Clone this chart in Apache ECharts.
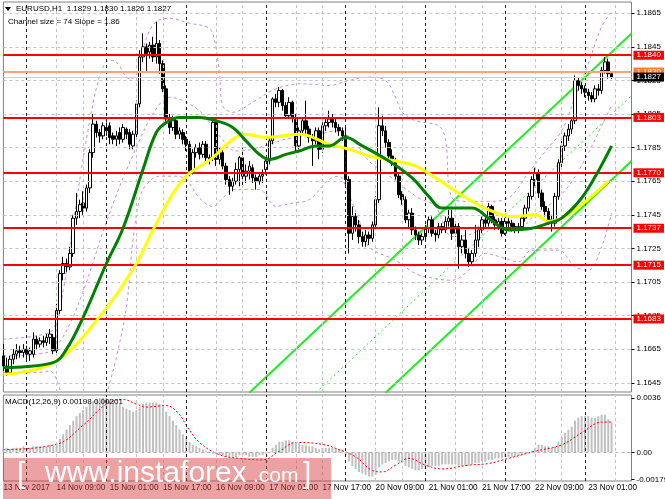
<!DOCTYPE html>
<html><head><meta charset="utf-8">
<script src="https://cdn.jsdelivr.net/npm/echarts@6/dist/echarts.min.js"></script>
<style>html,body{margin:0;padding:0;background:#fff;}#c{width:665px;height:499px;}</style>
</head><body><div id="c"></div>
<script>
// ---------- DATA ----------
// EURUSD H1 candles: [open, high, low, close]
const ohlc = [
[1.1661,1.1668,1.1652,1.1655],[1.1655,1.1660,1.1649,1.1651],[1.1651,1.1661,1.1650,1.1659],[1.1659,1.1665,1.1656,1.1662],
[1.1662,1.1668,1.1659,1.1664],[1.1664,1.1667,1.1660,1.1663],[1.1663,1.1668,1.1660,1.1665],[1.1665,1.1667,1.1659,1.1662],
[1.1662,1.1666,1.1658,1.1664],[1.1662,1.1675,1.1660,1.1671],[1.1671,1.1673,1.1665,1.1668],[1.1668,1.1672,1.1666,1.1670],
[1.1670,1.1673,1.1666,1.1669],[1.1669,1.1674,1.1667,1.1672],[1.1672,1.1677,1.1668,1.1674],[1.1672,1.1674,1.1662,1.1664],
[1.1664,1.1692,1.1662,1.1688],[1.1688,1.1712,1.1686,1.1710],[1.1710,1.1720,1.1706,1.1716],[1.1716,1.1719,1.1711,1.1714],
[1.1714,1.1726,1.1712,1.1722],[1.1722,1.1745,1.1720,1.1743],[1.1743,1.1758,1.1739,1.1747],[1.1747,1.1754,1.1743,1.1751],
[1.1752,1.1759,1.1745,1.1749],[1.1749,1.1763,1.1747,1.1761],[1.1761,1.1784,1.1758,1.1782],[1.1782,1.1805,1.1779,1.1799],
[1.1799,1.1801,1.1791,1.1794],[1.1794,1.1796,1.1788,1.1792],[1.1792,1.1800,1.1790,1.1798],[1.1797,1.1800,1.1792,1.1795],
[1.1798,1.1800,1.1787,1.1791],[1.1792,1.1794,1.1787,1.1790],[1.1790,1.1795,1.1786,1.1792],[1.1794,1.1797,1.1787,1.1790],
[1.1790,1.1799,1.1788,1.1797],[1.1796,1.1797,1.1790,1.1793],[1.1794,1.1796,1.1784,1.1787],[1.1786,1.1795,1.1784,1.1793],
[1.1793,1.1813,1.1791,1.1811],[1.1811,1.1843,1.1809,1.1839],[1.1839,1.1853,1.1836,1.1845],[1.1845,1.1847,1.1830,1.1841],
[1.1842,1.1848,1.1838,1.1846],[1.1846,1.1851,1.1836,1.1839],[1.1839,1.1860,1.1835,1.1847],[1.1847,1.1849,1.1829,1.1835],
[1.1835,1.1837,1.1818,1.1820],[1.1820,1.1822,1.1799,1.1802],[1.1802,1.1805,1.1793,1.1797],[1.1797,1.1804,1.1795,1.1801],
[1.1801,1.1803,1.1790,1.1793],[1.1793,1.1797,1.1790,1.1795],[1.1794,1.1796,1.1787,1.1790],[1.1790,1.1792,1.1783,1.1787],
[1.1787,1.1789,1.1768,1.1771],[1.1771,1.1784,1.1769,1.1782],[1.1782,1.1787,1.1779,1.1785],[1.1785,1.1788,1.1778,1.1781],
[1.1781,1.1789,1.1779,1.1787],[1.1787,1.1789,1.1776,1.1779],[1.1779,1.1781,1.1775,1.1778],[1.1779,1.1802,1.1777,1.1800],
[1.1800,1.1803,1.1774,1.1778],[1.1778,1.1785,1.1775,1.1782],[1.1782,1.1784,1.1772,1.1774],[1.1774,1.1776,1.1763,1.1766],
[1.1766,1.1768,1.1757,1.1762],[1.1762,1.1767,1.1759,1.1765],[1.1765,1.1776,1.1763,1.1772],[1.1772,1.1780,1.1762,1.1779],
[1.1779,1.1785,1.1762,1.1768],[1.1768,1.1775,1.1764,1.1771],[1.1771,1.1777,1.1766,1.1774],[1.1773,1.1775,1.1764,1.1767],
[1.1767,1.1769,1.1760,1.1765],[1.1765,1.1770,1.1763,1.1768],[1.1768,1.1772,1.1764,1.1769],[1.1772,1.1779,1.1769,1.1777],
[1.1777,1.1791,1.1775,1.1789],[1.1789,1.1815,1.1787,1.1814],[1.1814,1.1817,1.1809,1.1812],[1.1812,1.1821,1.1809,1.1819],
[1.1819,1.1820,1.1807,1.1810],[1.1810,1.1812,1.1802,1.1804],[1.1804,1.1815,1.1802,1.1812],[1.1812,1.1813,1.1800,1.1803],
[1.1803,1.1805,1.1783,1.1786],[1.1786,1.1797,1.1784,1.1795],[1.1795,1.1803,1.1792,1.1801],[1.1801,1.1813,1.1793,1.1796],
[1.1796,1.1798,1.1788,1.1791],[1.1791,1.1793,1.1774,1.1789],[1.1789,1.1797,1.1787,1.1795],[1.1795,1.1797,1.1778,1.1784],
[1.1784,1.1800,1.1782,1.1798],[1.1798,1.1803,1.1795,1.1800],[1.1800,1.1807,1.1797,1.1802],[1.1802,1.1805,1.1797,1.1800],
[1.1800,1.1802,1.1794,1.1797],[1.1797,1.1799,1.1792,1.1795],[1.1795,1.1797,1.1789,1.1792],[1.1792,1.1798,1.1763,1.1766],
[1.1766,1.1768,1.1722,1.1734],[1.1734,1.1750,1.1730,1.1744],[1.1744,1.1746,1.1735,1.1739],[1.1739,1.1742,1.1728,1.1732],
[1.1732,1.1735,1.1726,1.1729],[1.1729,1.1736,1.1726,1.1733],[1.1733,1.1735,1.1727,1.1731],[1.1731,1.1741,1.1729,1.1739],
[1.1739,1.1756,1.1737,1.1754],[1.1754,1.1809,1.1752,1.1798],[1.1798,1.1804,1.1792,1.1795],[1.1795,1.1798,1.1785,1.1788],
[1.1788,1.1790,1.1777,1.1780],[1.1780,1.1784,1.1774,1.1777],[1.1777,1.1779,1.1766,1.1768],[1.1768,1.1770,1.1755,1.1757],
[1.1757,1.1759,1.1751,1.1754],[1.1754,1.1756,1.1740,1.1742],[1.1742,1.1748,1.1737,1.1746],[1.1746,1.1749,1.1733,1.1736],
[1.1736,1.1738,1.1730,1.1733],[1.1733,1.1735,1.1727,1.1730],[1.1730,1.1734,1.1727,1.1732],[1.1732,1.1739,1.1730,1.1737],
[1.1737,1.1744,1.1734,1.1742],[1.1742,1.1744,1.1732,1.1734],[1.1734,1.1736,1.1729,1.1733],[1.1733,1.1740,1.1731,1.1738],
[1.1738,1.1740,1.1734,1.1736],[1.1736,1.1744,1.1734,1.1741],[1.1741,1.1748,1.1738,1.1743],[1.1743,1.1748,1.1730,1.1734],
[1.1734,1.1740,1.1732,1.1738],[1.1738,1.1740,1.1713,1.1726],[1.1726,1.1733,1.1722,1.1730],[1.1730,1.1736,1.1719,1.1722],
[1.1722,1.1725,1.1714,1.1717],[1.1717,1.1724,1.1715,1.1722],[1.1722,1.1739,1.1720,1.1730],[1.1730,1.1738,1.1726,1.1736],
[1.1736,1.1744,1.1734,1.1742],[1.1742,1.1744,1.1737,1.1740],[1.1740,1.1752,1.1738,1.1750],[1.1750,1.1751,1.1740,1.1742],
[1.1742,1.1744,1.1736,1.1739],[1.1739,1.1743,1.1736,1.1741],[1.1741,1.1743,1.1732,1.1734],[1.1734,1.1743,1.1733,1.1741],
[1.1741,1.1743,1.1737,1.1740],[1.1740,1.1742,1.1735,1.1738],[1.1738,1.1740,1.1734,1.1736],[1.1736,1.1740,1.1734,1.1738],
[1.1738,1.1745,1.1736,1.1743],[1.1743,1.1751,1.1741,1.1749],[1.1749,1.1758,1.1747,1.1756],[1.1756,1.1768,1.1754,1.1766],
[1.1766,1.1773,1.1762,1.1770],[1.1770,1.1772,1.1755,1.1758],[1.1758,1.1760,1.1748,1.1750],[1.1750,1.1753,1.1744,1.1747],
[1.1747,1.1749,1.1739,1.1742],[1.1742,1.1745,1.1735,1.1740],[1.1740,1.1758,1.1738,1.1756],[1.1756,1.1778,1.1754,1.1776],
[1.1776,1.1789,1.1773,1.1786],[1.1786,1.1794,1.1783,1.1792],[1.1792,1.1799,1.1789,1.1796],[1.1796,1.1803,1.1793,1.1801],
[1.1801,1.1828,1.1799,1.1825],[1.1825,1.1827,1.1819,1.1822],[1.1822,1.1824,1.1817,1.1820],[1.1820,1.1822,1.1815,1.1818],
[1.1818,1.1820,1.1813,1.1816],[1.1816,1.1818,1.1812,1.1814],[1.1814,1.1822,1.1812,1.1820],[1.1820,1.1823,1.1816,1.1819],
[1.1819,1.1833,1.1817,1.1831],[1.1831,1.1839,1.1829,1.1836],[1.1836,1.1838,1.1826,1.1829],[1.1829,1.1830,1.1826,1.1827]
];
const slotCount = 190;                      // bar slots incl. right shift
const timeLabels = ['13 Nov 2017','14 Nov 09:00','15 Nov 01:00','15 Nov 17:00','16 Nov 09:00','17 Nov 01:00',
  '17 Nov 17:00','20 Nov 09:00','21 Nov 01:00','21 Nov 17:00','22 Nov 09:00','23 Nov 01:00'];
const labelStep = 16;
const daySeparators = [7,31,55,79,103,127,151,175];
const gridColumns = [16,24,40,48,64,72,88,96,112,120,136,144,160,168,184];
const priceTicks = [1.1645,1.1665,1.1685,1.1705,1.1725,1.1745,1.1765,1.1785,1.1805,1.1825,1.1845,1.1865];
const levels = [1.1840,1.1803,1.1770,1.1737,1.1715,1.1683];
const askPrice = 1.1830;
const bidPrice = 1.1827;
// moving averages (sampled points: [bar, price])
const maGreen = [[0,1.1654],[15,1.1657],[19,1.1665],[24,1.1684],[31,1.1716],[36,1.1737],[42,1.1772],[46,1.1794],[49,1.1800],
  [53,1.1803],[59,1.1803],[64,1.1801],[69,1.1797],[73,1.1789],[77,1.1781],[80,1.1778],[85,1.1781],[89,1.1783],[94,1.1786],
  [98,1.1786],[103,1.1791],[108,1.1786],[116,1.1777],[123,1.1767],[128,1.1756],[132,1.1749],[141,1.1749],[146,1.1743],
  [152,1.1736],[159,1.1737],[164,1.1740],[168,1.1743],[174,1.1755],[179,1.1771],[183,1.1786]];
const maYellow = [[0,1.1650],[15,1.1657],[28,1.1682],[40,1.1716],[45,1.1736],[54,1.1766],[63,1.1779],[69,1.1790],[73,1.1793],
  [79,1.1791],[89,1.1793],[98,1.1787],[104,1.1784],[110,1.1780],[118,1.1777],[124,1.1774],[130,1.1767],[136,1.1759],
  [141,1.1753],[146,1.1748],[153,1.1744],[160,1.1745],[164,1.1741],[168,1.1743],[174,1.1751],[182,1.1765]];
// Bollinger bands (sampled)
const bbUpper = [[0,1.1671],[10,1.1673],[15,1.1677],[18,1.1700],[21,1.1740],[25,1.1790],[29,1.1828],[32,1.1837],[34,1.1836],
  [38,1.1826],[40,1.1828],[43,1.1850],[46,1.1860],[50,1.1862],[56,1.1859],[61,1.1857],[63,1.1853],[65,1.1830],[66,1.1810],
  [69,1.1806],[75,1.1812],[82,1.1820],[90,1.1823],[98,1.1822],[104,1.1825],[110,1.1827],[115,1.1825],[118,1.1815],
  [120,1.1806],[124,1.1801],[131,1.1798],[133,1.1790],[135,1.1755],[140,1.1753],[146,1.1753],[152,1.1755],[158,1.1770],
  [164,1.1785],[168,1.1795],[172,1.1815],[176,1.1835],[180,1.1857],[183,1.1866]];
const bbMiddle = [[0,1.1661],[10,1.1662],[15,1.1665],[20,1.1680],[25,1.1705],[30,1.1735],[35,1.1762],[40,1.1785],[45,1.1805],
  [50,1.1815],[55,1.1812],[60,1.1805],[65,1.1792],[70,1.1783],[75,1.1784],[80,1.1787],[85,1.1790],[90,1.1792],[95,1.1793],
  [100,1.1795],[105,1.1790],[110,1.1777],[115,1.1770],[120,1.1762],[125,1.1755],[130,1.1750],[135,1.1732],[140,1.1733],
  [145,1.1737],[150,1.1737],[155,1.1737],[160,1.1745],[165,1.1752],[170,1.1762],[175,1.1778],[180,1.1798],[183,1.1810]];
const bbLower = [[0,1.1651],[10,1.1651],[14,1.1652],[16,1.1647],[18,1.1635],[22,1.1620],[27,1.1615],[30,1.1630],[32,1.1645],
  [34,1.1660],[37,1.1690],[39,1.1730],[41,1.1755],[43,1.1763],[47,1.1768],[52,1.1768],[55,1.1766],[59,1.1755],[63,1.1750],
  [66,1.1755],[69,1.1760],[77,1.1760],[82,1.1750],[87,1.1752],[92,1.1754],[98,1.1766],[101,1.1768],[103,1.1762],
  [105,1.1752],[107,1.1742],[110,1.1726],[118,1.1718],[124,1.1710],[130,1.1707],[135,1.1706],[140,1.1712],[145,1.1722],
  [151,1.1719],[155,1.1717],[159,1.1724],[167,1.1724],[172,1.1714],[176,1.1712],[180,1.1726],[183,1.1746]];
// regression channel (end points)
const channelUpper = [[74,1.1639],[189,1.1853]];
const channelMiddle = [[94,1.1639],[189,1.1816]];
const channelLower = [[115,1.1639],[189,1.1777]];
// MACD(12,26,9)
const macdMain = [
 0.0003,0.0003,0.0002,0.0003,0.0003,0.0003,0.0004,0.0003,0.0003,0.0004,0.0004,0.0004,0.0004,0.0004,0.0005,0.0004,
 0.0006,0.0009,0.0012,0.0015,0.0018,0.0021,0.0024,0.0026,0.0028,0.0030,0.0032,0.0034,0.0035,0.0036,0.0036,0.0036,0.0035,
 0.0034,0.0033,0.0032,0.0030,0.0029,0.0028,0.0027,0.0028,
 0.0030,0.0032,0.0033,0.0033,0.0033,0.0033,0.0032,0.0030,
 0.0027,0.0024,0.0021,0.0018,0.0015,0.0012,0.0010,0.0007,0.0005,0.0004,
 0.0003,0.0002,0.0001,0.0000,-0.0001,
 -0.0001,-0.0002,-0.0002,-0.0003,-0.0003,-0.0003,-0.0003,-0.0002,-0.0002,-0.0002,-0.0003,-0.0003,-0.0003,-0.0002,-0.0002,-0.0001,0.0000,
 0.0003,0.0005,0.0007,0.0007,0.0008,0.0008,0.0007,0.0006,0.0006,
 0.0005,0.0005,0.0004,0.0004,0.0003,0.0002,0.0003,0.0003,0.0003,0.0003,0.0003,0.0002,0.0002,
 -0.0002,-0.0006,-0.0009,-0.0011,-0.0013,-0.0014,-0.0015,-0.0016,-0.0016,-0.0015,
 -0.0010,-0.0008,-0.0007,-0.0006,-0.0005,-0.0005,-0.0006,-0.0007,
 -0.0009,-0.0010,-0.0011,-0.0012,-0.0012,-0.0011,-0.0011,
 -0.0010,-0.0009,-0.0009,-0.0009,-0.0008,-0.0008,-0.0008,-0.0008,-0.0008,-0.0009,-0.0009,-0.0009,-0.0009,-0.0008,-0.0007,-0.0007,-0.0006,-0.0006,-0.0005,-0.0005,
 -0.0004,-0.0004,-0.0004,-0.0003,-0.0003,-0.0003,-0.0003,-0.0002,-0.0002,-0.0001,0.0000,0.0001,0.0003,
 0.0005,0.0005,0.0004,0.0004,0.0003,0.0004,0.0007,0.0010,
 0.0013,0.0015,0.0017,0.0021,0.0023,0.0024,0.0024,0.0024,
 0.0023,0.0023,0.0024,0.0025,0.0025,0.0022,0.0020];
const macdSignal = [[0,0.00018],[16,0.00053],[24,0.0018],[31,0.0032],[36,0.0035],[40,0.0032],[43,0.0030],[49,0.0031],
  [53,0.0025],[55,0.0018],[59,0.00065],[65,-0.00016],[71,-0.0004],[78,-0.0005],[83,0.00007],[88,0.00065],[96,0.00053],
  [101,0.00018],[106,-0.0003],[111,-0.0012],[114,-0.0013],[118,-0.00085],[122,-0.0004],[127,-0.00085],[132,-0.0011],
  [140,-0.00085],[146,-0.00074],[152,-0.0004],[160,0.00007],[168,0.0005],[174,0.0013],[180,0.0020],[183,0.00201]];
const macdTickValues = [-0.00179, 0, 0.0036];
const macdTickText = ['-0.00179', '0.00', '0.0036'];
const titleText = 'EURUSD,H1  1.1829 1.1830 1.1826 1.1827';
const channelText = 'Channel size = 74 Slope = 1.86';
const macdText = 'MACD(12,26,9) 0.00198 0.00201';

// ---------- CHART ----------
const FONT = 'Liberation Sans';
const cats = Array.from({length: slotCount}, (_, i) => String(i));
const candleData = ohlc.map(r => [r[0], r[3], r[2], r[1]]);
const chart = echarts.init(document.getElementById('c'), null, {renderer: 'canvas', width: 665, height: 499});

const dash = (color) => ({color, width: 1, type: [3, 3]});
const levelLabel = (bg, fg) => ({show: true, position: 'end', distance: 2, color: fg, backgroundColor: bg,
  fontSize: 8, fontFamily: FONT, padding: [1, 3, 0, 3], lineHeight: 8,
  formatter: p => Number(p.value).toFixed(4)});

const mainMarks = [
  ...priceTicks.map(v => ({yAxis: v, lineStyle: dash('#c4c4c4')})),
  ...gridColumns.map(i => ({xAxis: i, lineStyle: dash('#c4c4c4')})),
  ...daySeparators.map(i => ({xAxis: i, lineStyle: dash('#202020')}))
];
const macdMarks = [
  {yAxis: 0, lineStyle: dash('#b0b0b0')},
  ...gridColumns.map(i => ({xAxis: i, lineStyle: dash('#c4c4c4')})),
  ...daySeparators.map(i => ({xAxis: i, lineStyle: dash('#202020')}))
];
const levelMarks = [
  ...levels.map(v => ({yAxis: v, lineStyle: {color: '#ff0000', width: 2, type: 'solid'}, label: levelLabel('#ff0000', '#fff')})),
  {yAxis: askPrice, lineStyle: {color: '#ffa27c', width: 2, type: 'solid'}, label: levelLabel('#ff7b2e', '#fff')},
  {yAxis: bidPrice, lineStyle: {color: '#cfcfcf', width: 1, type: 'solid'}, label: levelLabel('#000000', '#fff')}
];

const bbStyle = {color: '#c58be8', width: 1, type: [3, 3]};
const lineSeries = (name, data, style, z, smooth) => ({
  name, type: 'line', xAxisIndex: 0, yAxisIndex: 0, data, showSymbol: false, symbol: 'none',
  smooth: smooth, lineStyle: style, z, silent: true
});
const markLineBase = {silent: true, symbol: ['none', 'none'], precision: 6, animation: false};

const option = {
  animation: false,
  backgroundColor: '#ffffff',
  grid: [
    {left: 3.4, right: 33.5, top: 2, bottom: 107, show: true, borderColor: '#808080', borderWidth: 1, containLabel: false, outerBoundsMode: 'none'},
    {left: 3.4, right: 33.5, top: 395, bottom: 18, show: true, borderColor: '#808080', borderWidth: 1, containLabel: false, outerBoundsMode: 'none'}
  ],
  xAxis: [
    {type: 'category', gridIndex: 0, data: cats, boundaryGap: false,
     axisLine: {show: false}, axisTick: {show: false}, axisLabel: {show: false}, splitLine: {show: false}},
    {type: 'category', gridIndex: 1, data: cats, boundaryGap: false,
     axisLine: {show: false}, axisTick: {show: false}, splitLine: {show: false},
     axisLabel: {show: true, interval: i => i % labelStep === 0, align: 'left', margin: 3,
       fontSize: 8.2, fontFamily: FONT, color: '#000',
       formatter: (v, i) => (i % labelStep === 0 && timeLabels[i / labelStep]) ? timeLabels[i / labelStep] : ''}}
  ],
  yAxis: [
    {type: 'value', gridIndex: 0, position: 'right', min: 1.16395, max: 1.18717, scale: true,
     axisLine: {show: false}, splitLine: {show: false},
     axisTick: {show: true, length: 3, customValues: priceTicks, lineStyle: {color: '#000'}},
     axisLabel: {show: true, customValues: priceTicks, margin: 5, fontSize: 8, fontFamily: FONT, color: '#000',
       formatter: v => Number(v).toFixed(4)}},
    {type: 'value', gridIndex: 1, position: 'right', min: -0.0019, max: 0.0038,
     axisLine: {show: false}, splitLine: {show: false},
     axisTick: {show: true, length: 3, customValues: macdTickValues, lineStyle: {color: '#000'}},
     axisLabel: {show: true, customValues: macdTickValues, margin: 5, fontSize: 8, fontFamily: FONT, color: '#000',
       formatter: v => {
         let best = 0;
         macdTickValues.forEach((t, k) => { if (Math.abs(t - v) < Math.abs(macdTickValues[best] - v)) best = k; });
         return macdTickText[best];
       }}}
  ],
  series: [
    {name: 'grid', type: 'line', xAxisIndex: 0, yAxisIndex: 0, data: [], z: 1, silent: true,
     markLine: Object.assign({label: {show: false}, data: mainMarks}, markLineBase)},
    {name: 'levels', type: 'line', xAxisIndex: 0, yAxisIndex: 0, data: [], z: 2, silent: true,
     markLine: Object.assign({data: levelMarks}, markLineBase)},
    lineSeries('bbUpper', bbUpper, bbStyle, 3, 0.35),
    lineSeries('bbMiddle', bbMiddle, bbStyle, 3, 0.35),
    lineSeries('bbLower', bbLower, bbStyle, 3, 0.35),
    lineSeries('chUpper', channelUpper, {color: '#22ee22', width: 2}, 3, false),
    lineSeries('chMiddle', channelMiddle, {color: '#22ee22', width: 1, type: [2, 3]}, 3, false),
    lineSeries('chLower', channelLower, {color: '#22ee22', width: 2}, 3, false),
    {name: 'EURUSD', type: 'candlestick', xAxisIndex: 0, yAxisIndex: 0, data: candleData, z: 4, barWidth: 3, silent: true,
     itemStyle: {color: '#ffffff', color0: '#000000', borderColor: '#000000', borderColor0: '#000000', borderWidth: 1}},
    lineSeries('maYellow', maYellow, {color: '#ffff00', width: 3}, 5, 0.4),
    lineSeries('maGreen', maGreen, {color: '#008000', width: 3}, 6, 0.4),
    {name: 'macdGrid', type: 'line', xAxisIndex: 1, yAxisIndex: 1, data: [], z: 1, silent: true,
     markLine: Object.assign({label: {show: false}, data: macdMarks}, markLineBase)},
    {name: 'MACD', type: 'bar', xAxisIndex: 1, yAxisIndex: 1, data: macdMain, barWidth: 2, z: 2, silent: true,
     itemStyle: {color: '#c0c0c0'}},
    {name: 'Signal', type: 'line', xAxisIndex: 1, yAxisIndex: 1, data: macdSignal, showSymbol: false, symbol: 'none',
     smooth: 0.4, z: 3, silent: true, lineStyle: {color: '#ff0000', width: 1, type: [2, 2]}}
  ],
  graphic: [
    {type: 'polygon', z: 100, shape: {points: [[5, 7], [11, 7], [8, 11]]}, style: {fill: '#000'}},
    {type: 'text', z: 100, x: 16, y: 9, style: {text: titleText, fontSize: 8, fontFamily: FONT, fill: '#000', verticalAlign: 'middle'}},
    {type: 'text', z: 100, x: 8, y: 22, style: {text: channelText, fontSize: 8, fontFamily: FONT, fill: '#000', verticalAlign: 'middle'}},
    {type: 'text', z: 100, x: 5, y: 402, style: {text: macdText, fontSize: 8, fontFamily: FONT, fill: '#000', verticalAlign: 'middle'}},
    {type: 'rect', z: 100, shape: {x: 3, y: 458, width: 328, height: 41}, style: {fill: 'rgba(215,60,60,0.48)'}},
    {type: 'text', z: 101, x: 17, y: 490, style: {text: '[', fontSize: 30, fontFamily: FONT, fill: '#fff', verticalAlign: 'bottom'}},
    {type: 'text', z: 101, x: 45, y: 489, style: {text: 'www.instaforex', fontSize: 30, fontFamily: FONT, fill: '#fff', verticalAlign: 'bottom'}},
    {type: 'text', z: 101, x: 253, y: 487, style: {text: '.com', fontSize: 21, fontFamily: FONT, fill: '#fff', verticalAlign: 'bottom'}},
    {type: 'text', z: 101, x: 303, y: 490, style: {text: ']', fontSize: 30, fontFamily: FONT, fill: '#fff', verticalAlign: 'bottom'}}
  ]
};
chart.setOption(option);
</script>
</body></html>
